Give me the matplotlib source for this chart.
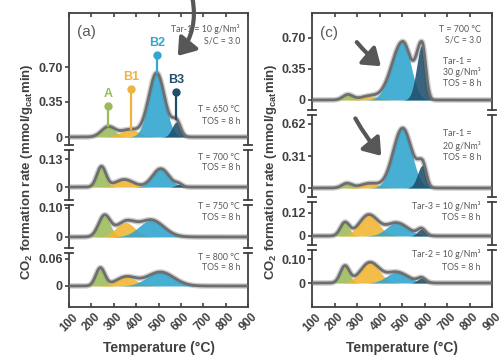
import numpy as np
import matplotlib
matplotlib.use("Agg")
import matplotlib.pyplot as plt
from matplotlib.lines import Line2D
from matplotlib.patches import FancyArrowPatch

plt.rcParams['font.family'] = ['Liberation Sans', 'DejaVu Sans']
plt.rcParams['mathtext.fontset'] = 'custom'
plt.rcParams['mathtext.rm'] = 'Liberation Sans'
plt.rcParams['mathtext.bf'] = 'Liberation Sans:bold'

W, H = 500, 360
TEXT = '#404040'
NOTE = '#595959'
ENV = '#6e6e6e'
RAW = '#cdcdcd'

peak_names = ['A', 'B1', 'B2', 'B3']
peak_colors = ['#9bbb59', '#f2b431', '#2ea4cf', '#1f4e6b']
label_colors = ['#9bbb59', '#f0b43c', '#33a7d3', '#1f4e6b']

temperature = np.arange(100, 901, 1.0)
x_ticks = [100, 200, 300, 400, 500, 600, 700, 800, 900]

# ---- (a) series: reaction temperature 650-800 °C ----
a_centres = [[275, 372, 492, 580], [245, 347, 510, 590],
             [258, 352, 468, 590], [240, 355, 508, 590]]
a_heights = [[0.10, 0.075, 0.64, 0.15], [0.095, 0.035, 0.085, 0.012],
             [0.072, 0.05, 0.058, 0.0], [0.040, 0.02, 0.031, 0.0]]
a_sig_lo = [[30, 42, 36, 20], [20, 40, 37, 15], [26, 42, 55, 15], [20, 45, 60, 15]]
a_sig_hi = [[30, 42, 36, 18], [20, 40, 37, 15], [26, 42, 55, 15], [20, 45, 60, 15]]
a_yticks = [[0, 0.35, 0.70], [0, 0.13], [0, 0.10], [0, 0.06]]
a_yticklabels = [['0', '0.35', '0.70'], ['0', '0.13'], ['0', '0.10'], ['0', '0.06']]
a_notes = [['T = 650 °C', 'TOS = 8 h'], ['T = 700 °C', 'TOS = 8 h'],
           ['T = 750 °C', 'TOS = 8 h'], ['T = 800 °C', 'TOS = 8 h']]

# ---- (c) series: tar type and concentration at 700 °C ----
c_centres = [[259, 357, 503, 589], [255, 357, 503, 591],
             [246, 352, 476, 587], [246, 357, 476, 587]]
c_heights = [[0.06, 0.045, 0.66, 0.62], [0.045, 0.045, 0.58, 0.22],
             [0.068, 0.11, 0.068, 0.035], [0.07, 0.085, 0.045, 0.02]]
c_sig_lo = [[22, 40, 48, 24], [22, 40, 42, 22], [20, 42, 45, 18], [20, 42, 45, 18]]
c_sig_hi = [[22, 40, 36, 16], [22, 40, 40, 16], [20, 42, 50, 18], [20, 42, 50, 18]]
c_yticks = [[0, 0.35, 0.70], [0, 0.31, 0.62], [0, 0.12], [0, 0.10]]
c_yticklabels = [['0', '0.35', '0.70'], ['0', '0.31', '0.62'], ['0', '0.12'], ['0', '0.10']]

# stacked sub-axes, pixel rows (top, bottom) and y limits
a_rows = [(13, 145), (150, 200), (205, 248), (253, 307)]
a_ylims = [(-0.08, 1.24), (-0.060, 0.172), (-0.038, 0.110), (-0.0467, 0.0733)]
c_rows = [(13, 110), (115, 197), (202, 245), (250, 307)]
c_ylims = [(-0.113, 0.982), (-0.087, 0.707), (-0.047, 0.177), (-0.1, 0.1375)]

# peak markers of the 650 °C profile
marker_temps = [276, 377, 492, 580]
marker_tops = [0.31, 0.48, 0.82, 0.45]


def split_peak(t, c, h, s_lo, s_hi):
    s = np.where(t < c, s_lo, s_hi)
    return h * np.exp(-0.5 * ((t - c) / s) ** 2)


fig = plt.figure(figsize=(W / 100, H / 100), dpi=100)


def add_stack(x0, x1, rows, ylims, centres, heights, s_lo, s_hi, yticks, yticklabels):
    axes = []
    n = len(rows)
    for i, ((y0, y1), yl) in enumerate(zip(rows, ylims)):
        ax = fig.add_axes([x0 / W, 1 - y1 / H, (x1 - x0) / W, (y1 - y0) / H])
        ax.set_xlim(100, 900)
        ax.set_ylim(*yl)
        comps = [split_peak(temperature, c, h, a, b)
                 for c, h, a, b in zip(centres[i], heights[i], s_lo[i], s_hi[i])]
        total = np.sum(comps, axis=0)
        ax.plot(temperature, total, color=RAW, lw=4, solid_capstyle='butt', zorder=1)
        for comp, col in zip(comps, peak_colors):
            if comp.max() > 0:
                ax.fill_between(temperature, 0, comp, color=col, alpha=0.88, lw=0, zorder=2)
        ax.plot(temperature, total, color=ENV, lw=2.0, zorder=3)
        for sp in ax.spines.values():
            sp.set_color(TEXT)
            sp.set_linewidth(1.3)
        ax.spines['top'].set_visible(i == 0)
        ax.spines['bottom'].set_visible(i == n - 1)
        ax.set_yticks(yticks[i])
        ax.set_yticklabels(yticklabels[i])
        ax.tick_params(axis='y', direction='out', length=3, width=1.2, colors=TEXT,
                       labelsize=9, pad=1.5)
        for lab in ax.get_yticklabels():
            lab.set_fontweight('bold')
        ax.set_xticks(x_ticks)
        if i == n - 1:
            ax.tick_params(axis='x', direction='in', length=3, width=1.2, colors=TEXT,
                           bottom=True, top=False, labelbottom=True, pad=3, labelsize=8.5)
            ax.set_xticklabels([str(v) for v in x_ticks], rotation=45, ha='center',
                               fontweight='bold')
        elif i == 0:
            ax.tick_params(axis='x', direction='in', length=3, width=1.2, colors=TEXT,
                           bottom=False, top=True, labelbottom=False)
        else:
            ax.tick_params(axis='x', bottom=False, top=False, labelbottom=False)
        axes.append(ax)

    # break marks on the side spines between sub-axes
    cap = 8
    for i in range(n - 1):
        yb = 1 - rows[i][1] / H
        yt = 1 - rows[i + 1][0] / H
        for xs in (x0, x1):
            for yy in (yb, yt):
                fig.add_artist(Line2D([(xs - cap / 2) / W, (xs + cap / 2) / W], [yy, yy],
                                      color=TEXT, lw=1.3))
    return axes


a_axes = add_stack(69, 248, a_rows, a_ylims, a_centres, a_heights, a_sig_lo, a_sig_hi,
                   a_yticks, a_yticklabels)
c_axes = add_stack(312, 492, c_rows, c_ylims, c_centres, c_heights, c_sig_lo, c_sig_hi,
                   c_yticks, c_yticklabels)

# peak markers with stems on the 650 °C profile
ax0 = a_axes[0]
for k in range(4):
    t = marker_temps[k]
    base = sum(split_peak(np.array([t]), c, h, a, b)[0]
               for c, h, a, b in zip(a_centres[0], a_heights[0], a_sig_lo[0], a_sig_hi[0]))
    ax0.plot([t, t], [base, marker_tops[k]], color=label_colors[k], lw=1.6, zorder=4)
    ax0.plot([t], [marker_tops[k]], 'o', color=label_colors[k], ms=5, zorder=5)
    ax0.text(t, marker_tops[k] + 0.06, peak_names[k], color=label_colors[k],
             ha='center', va='bottom', fontsize=9, fontweight='bold', zorder=5)

note_kw = dict(fontsize=6.3, color=NOTE, family=['Lato', 'DejaVu Sans'])


def ptext(px, py, s, ha='right'):
    fig.text(px / W, 1 - py / H, s, ha=ha, va='center', **note_kw)


# annotations, (a)
ptext(240, 29, 'Tar-1 = 10 g/Nm³')
ptext(240, 41, 'S/C = 3.0')
for (l1, l2), (y1, y2) in zip(a_notes, [(110, 121), (157, 168), (207, 218), (257, 268)]):
    ptext(240, y1, l1)
    ptext(240, y2, l2)

# annotations, (c)
ptext(481, 29, 'T = 700 °C')
ptext(481, 40, 'S/C = 3.0')
ptext(443, 61, 'Tar-1 =', ha='left')
ptext(443, 72, '30 g/Nm³', ha='left')
ptext(443, 83, 'TOS = 8 h', ha='left')
ptext(443, 133, 'Tar-1 =', ha='left')
ptext(443, 146, '20 g/Nm³', ha='left')
ptext(443, 158, 'TOS = 8 h', ha='left')
ptext(481, 206, 'Tar-3 = 10 g/Nm³')
ptext(481, 217, 'TOS = 8 h')
ptext(481, 254, 'Tar-2 = 10 g/Nm³')
ptext(481, 267, 'TOS = 8 h')

fig.text(77 / W, 1 - 32 / H, '(a)', fontsize=11, color=NOTE, va='center', ha='left')
fig.text(320 / W, 1 - 33 / H, '(c)', fontsize=11, color=NOTE, va='center', ha='left')

ylab = r'CO$_\mathbf{2}$ formation rate (mmol/g$_\mathbf{cat}$min)'
fig.text(27 / W, 1 - 172 / H, ylab, rotation=90, ha='center', va='center',
         fontsize=9.5, fontweight='bold', color=TEXT)
fig.text(271 / W, 1 - 172 / H, ylab, rotation=90, ha='center', va='center',
         fontsize=9.5, fontweight='bold', color=TEXT)
fig.text(159 / W, 1 - 348 / H, 'Temperature (°C)', ha='center', va='center',
         fontsize=10, fontweight='bold', color=TEXT)
fig.text(402 / W, 1 - 348 / H, 'Temperature (°C)', ha='center', va='center',
         fontsize=10, fontweight='bold', color=TEXT)


def arrow(p0, p1, rad):
    a = FancyArrowPatch((p0[0] / W, 1 - p0[1] / H), (p1[0] / W, 1 - p1[1] / H),
                        transform=fig.transFigure, connectionstyle=f'arc3,rad={rad}',
                        arrowstyle='-|>,head_length=0.7,head_width=0.5',
                        mutation_scale=14, lw=3, color='#575757', zorder=10)
    fig.add_artist(a)


arrow((192, -4), (176, 58), -0.25)
arrow((355, 40), (383, 68), 0.05)
arrow((354, 116), (383, 158), 0.05)

fig.savefig('out.png', dpi=100)
